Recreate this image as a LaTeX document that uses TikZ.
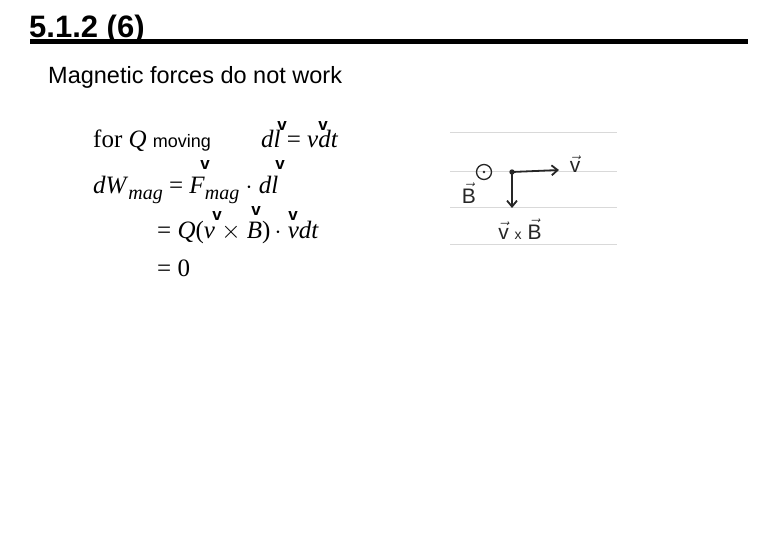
\documentclass[tikz,border=0pt]{standalone}
\usepackage{fontspec}
\usetikzlibrary{arrows.meta}
\setmainfont{Liberation Serif}
\setsansfont{Liberation Sans}
\newfontfamily\hand{Liberation Sans}
\newcommand{\hv}[1]{$\vec{\hbox{#1}}$}
\begin{document}
\begin{tikzpicture}[x=1pt,y=-1pt,
  eq/.style={anchor=base west,inner sep=0,font=\fontsize{25}{25}\selectfont},
  vv/.style={anchor=base,inner sep=0,font=\sffamily\bfseries\fontsize{17}{17}\selectfont},
  paper/.style={draw=black!15,line width=1pt},
  ink/.style={line width=1.8pt,black!85,-{Straight Barb[length=6pt,width=10pt]}},
  hw/.style={inner sep=0,font=\hand\fontsize{21}{21}\selectfont,black!85}]
\useasboundingbox (0,0) rectangle (780,540);
\node[anchor=base west,inner sep=0,font=\sffamily\bfseries\fontsize{31}{31}\selectfont] (title) at (29,38) {5.1.2 (6)};
\draw[line width=5pt] (30,42) -- (748,42);
\node[anchor=base west,inner sep=0,font=\sffamily\fontsize{23.5}{23.5}\selectfont] (sub) at (48,84) {Magnetic forces do not work};
% equations
\node[eq] (l1) at (93,148) {for \textit{Q} {\sffamily\fontsize{18}{18}\selectfont moving}};
\node[eq] (l1b) at (261,148) {\textit{dl} = \textit{vdt}};
\node[eq] (l2) at (93,194) {\textit{dW}{\raisebox{-6pt}{\fontsize{20}{20}\selectfont\textit{mag}}} = \textit{F}{\raisebox{-6pt}{\fontsize{20}{20}\selectfont\textit{mag}}} $\cdot$ \textit{dl}};
\node[eq] (l3) at (157,239) {= \textit{Q}(\textit{v} $\times$ \textit{B})$\,\cdot$ \textit{vdt}};
\node[eq] (l4) at (157,277) {= 0};
\node[vv] (v1) at (282,131) {v};
\node[vv] (v1b) at (323,131) {v};
\node[vv] (v2) at (205,170) {v};
\node[vv] (v2b) at (280,170) {v};
\node[vv] (v3) at (217,221) {v};
\node[vv] (v3b) at (256,216) {v};
\node[vv] (v3c) at (293,221) {v};
% sketch
\foreach \yy in {133,172,208,245} \draw[paper] (450,\yy) -- (617,\yy);
\node[draw=black!85,line width=1.3pt,circle,minimum size=15pt,inner sep=0] (odot) at (484,172) {};
\fill[black!85] (odot.center) circle (1.3pt);
\coordinate (p) at (512,172);
\fill[black!85] (p) circle (2.7pt);
\node[hw] (vlab) at (575,164) {\hv{v}};
\draw[ink] (p) -- (559,170);
\node[hw] (blab) at (469,193) {\hv{B}};
\coordinate (q) at (512,208);
\draw[ink] (p) -- (q);
\node[hw] (vxb) at (520,229) {\hv{v} {\fontsize{14}{14}\selectfont x} \hv{B}};
\end{tikzpicture}
\end{document}
